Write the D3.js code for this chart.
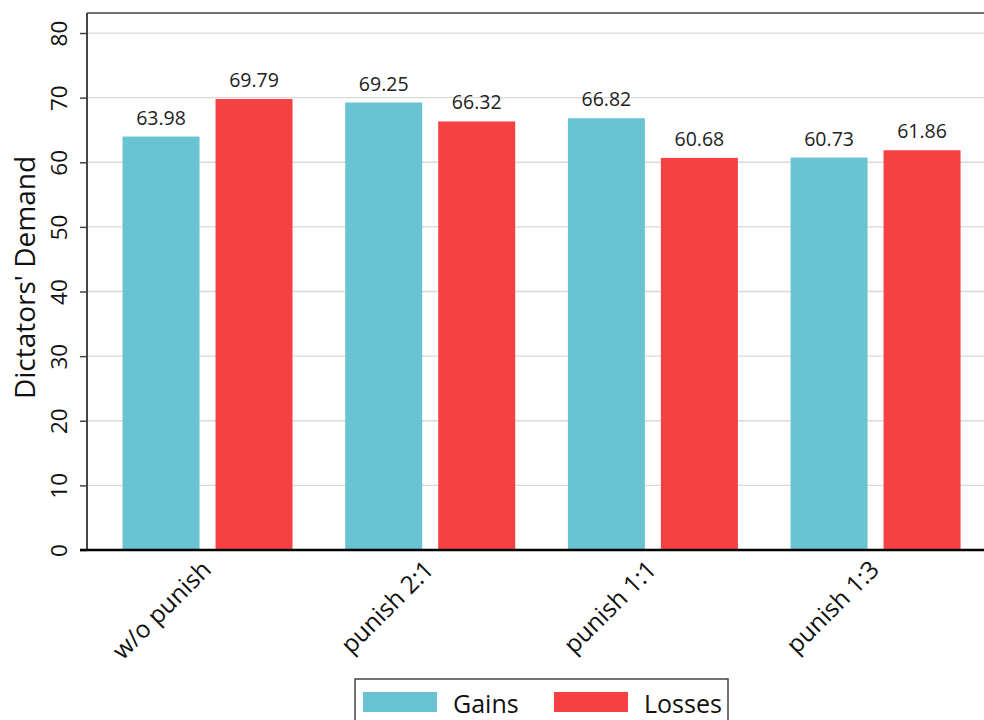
<!DOCTYPE html>
<html>
<head>
<meta charset="utf-8">
<script src="https://cdn.jsdelivr.net/npm/d3@7"></script>
<style>
  html, body { margin: 0; padding: 0; background: #fff; }
  svg { display: block; font-family: "Open Sans", "Noto Sans", sans-serif; }
</style>
</head>
<body>
<svg id="chart" width="984" height="720"></svg>
<script>
// Treatment conditions and mean demands per frame
const categories = ["w/o punish", "punish 2:1", "punish 1:1", "punish 1:3"];
const seriesNames = ["Gains", "Losses"];
const gains = [63.98, 69.25, 66.82, 60.73];
const losses = [69.79, 66.32, 60.68, 61.86];
const yTicks = [0, 10, 20, 30, 40, 50, 60, 70, 80];
const colors = ["#6AC3D2", "#F64142"];

const svg = d3.select("#chart");
const plot = { left: 87, top: 13, right: 1000, bottom: 550 };

const y = d3.scaleLinear().domain([0, 83.1]).range([plot.bottom, plot.top]);
const x = d3.scaleBand().domain(categories).range([96.2, 986.9]).padding(0);
const inner = d3.scaleBand().domain(seriesNames).range([-85, 85]).paddingInner(0.172).paddingOuter(0);

// Horizontal gridlines
svg.append("g")
  .selectAll("line")
  .data(yTicks.filter(d => d > 0))
  .join("line")
  .attr("x1", plot.left).attr("x2", plot.right)
  .attr("y1", d => y(d)).attr("y2", d => y(d))
  .attr("stroke", "#d9d9d9").attr("stroke-width", 1.3);

// Frame top line
svg.append("line")
  .attr("x1", plot.left).attr("x2", plot.right)
  .attr("y1", plot.top).attr("y2", plot.top)
  .attr("stroke", "#444").attr("stroke-width", 1.5);

// Bars
const rows = categories.map((c, i) => ({ cat: c, values: [gains[i], losses[i]] }));
const groups = svg.append("g")
  .selectAll("g")
  .data(rows)
  .join("g")
  .attr("transform", d => `translate(${x(d.cat) + x.bandwidth() / 2},0)`);

groups.selectAll("rect")
  .data(d => d.values.map((v, j) => ({ name: seriesNames[j], v, j })))
  .join("rect")
  .attr("x", d => inner(d.name))
  .attr("width", inner.bandwidth())
  .attr("y", d => y(d.v))
  .attr("height", d => y(0) - y(d.v))
  .attr("fill", d => colors[d.j]);

groups.selectAll("text")
  .data(d => d.values.map((v, j) => ({ name: seriesNames[j], v })))
  .join("text")
  .attr("x", d => inner(d.name) + inner.bandwidth() / 2)
  .attr("y", d => y(d.v) - 12)
  .attr("text-anchor", "middle")
  .attr("font-size", 19.5)
  .attr("fill", "#222")
  .text(d => d.v.toFixed(2));

// Y axis
const yAxis = svg.append("g")
  .attr("transform", `translate(${plot.left},0)`)
  .call(d3.axisLeft(y).tickValues(yTicks).tickSize(7).tickFormat(d3.format("d")));
yAxis.select(".domain").remove();
yAxis.selectAll(".tick line").attr("stroke", "#444").attr("stroke-width", 1.5);
yAxis.selectAll(".tick text")
  .attr("transform", "rotate(-90)")
  .attr("x", 0).attr("y", -20).attr("dy", 0)
  .attr("text-anchor", "middle")
  .attr("font-size", 22.5)
  .attr("font-family", "'Open Sans', 'Noto Sans', sans-serif")
  .attr("fill", "#111");
svg.append("line")
  .attr("x1", plot.left).attr("x2", plot.left)
  .attr("y1", plot.top).attr("y2", plot.bottom)
  .attr("stroke", "#444").attr("stroke-width", 2);

// X axis
const xAxis = svg.append("g")
  .attr("transform", `translate(0,${plot.bottom})`)
  .call(d3.axisBottom(x).tickSize(0));
xAxis.select(".domain").remove();
xAxis.selectAll(".tick text")
  .attr("transform", "translate(5,21) rotate(-45)")
  .attr("x", 0).attr("y", 0).attr("dy", 0)
  .attr("text-anchor", "end")
  .attr("font-size", 24.5)
  .attr("font-family", "'Open Sans', 'Noto Sans', sans-serif")
  .attr("fill", "#111");
svg.append("line")
  .attr("x1", plot.left - 7).attr("x2", plot.right)
  .attr("y1", plot.bottom).attr("y2", plot.bottom)
  .attr("stroke", "#000").attr("stroke-width", 2.5);

// Y title
svg.append("text")
  .attr("transform", `translate(35,${(plot.top + plot.bottom) / 2 - 4}) rotate(-90)`)
  .attr("text-anchor", "middle")
  .attr("font-size", 28)
  .attr("fill", "#111")
  .text("Dictators' Demand");

// Legend
const legend = svg.append("g").attr("transform", "translate(355,679)");
legend.append("rect")
  .attr("x", 0).attr("y", 0).attr("width", 373).attr("height", 50)
  .attr("fill", "#fff").attr("stroke", "#444").attr("stroke-width", 1.5);
const items = legend.selectAll("g.item")
  .data(seriesNames)
  .join("g")
  .attr("class", "item")
  .attr("transform", (d, i) => `translate(${8 + i * 191},13)`);
items.append("rect")
  .attr("width", 74).attr("height", 20)
  .attr("fill", (d, i) => colors[i]);
items.append("text")
  .attr("x", 90).attr("y", 21)
  .attr("font-size", 25)
  .attr("fill", "#111")
  .text(d => d);
</script>
</body>
</html>
